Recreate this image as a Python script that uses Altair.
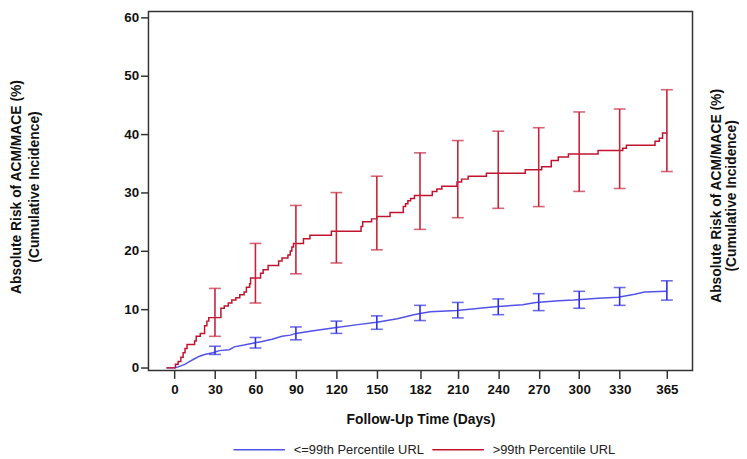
import altair as alt
import pandas as pd

groups = ["<=99th Percentile URL", ">99th Percentile URL"]
line_colors = ["#5252e8", "#c0142e"]
bar_colors = ["#2f2fdc", "#c4243a"]

# Cumulative incidence curves (day, %)
blue_days = [-6, 0, 2.7, 7.6, 11.3, 14.9, 18.6, 22.3, 28.4, 33.3, 40.6, 44.3, 51.6, 58.9,
             65, 72.3, 79.7, 85.8, 90, 101.7, 120, 135.9, 150, 165.2, 177.4, 182, 189.6,
             209.2, 239.7, 258, 267.8, 284.9, 295.9, 314.2, 328.9, 341.1, 348.4, 365]
blue_risk = [0, 0, 0.17, 0.6, 1.1, 1.56, 2.0, 2.3, 2.6, 2.95, 3.1, 3.6, 3.9, 4.25,
             4.5, 4.9, 5.4, 5.6, 5.9, 6.3, 6.9, 7.4, 7.8, 8.4, 9.1, 9.3, 9.6,
             9.8, 10.5, 10.8, 11.2, 11.5, 11.6, 11.9, 12.1, 12.6, 13.0, 13.1]

red_days = [-6, 0.7, 2.7, 4.7, 6.4, 7.8, 9.3, 14.9, 16.1, 19.1, 22.3, 24, 25.4, 34.4,
            36.9, 39.9, 42.5, 45.5, 48.4, 51.6, 53.3, 55.7, 56.4, 63.8, 65.7, 69.4,
            77.2, 79.7, 84.1, 85.8, 87, 88.2, 95.6, 100.4, 116.3, 138.3, 139.5, 146.1,
            150, 159.8, 169.6, 171.3, 173, 175, 177.9, 191.1, 194.5, 198.2, 209.4,
            212.8, 217.7, 231.2, 260, 272.2, 279.3, 284.5, 292, 314, 332.3, 335,
            356.2, 359.4, 361.8, 365]
red_risk = [0, 0.6, 1.1, 1.8, 2.6, 3.3, 4.0, 4.6, 5.4, 5.9, 7.2, 8.0, 8.6, 10.2,
            10.6, 11.1, 11.6, 12.0, 12.5, 13.0, 13.8, 14.4, 15.4, 16.2, 16.8, 17.5,
            18.3, 18.8, 19.3, 20.0, 20.7, 21.3, 22.1, 22.7, 23.4, 24.2, 25.0, 25.5,
            25.9, 26.6, 27.6, 28.1, 28.6, 29.0, 29.5, 30.2, 30.6, 31.1, 31.8,
            32.3, 32.8, 33.3, 33.9, 34.4, 35.5, 36.1, 36.6, 37.2, 37.6, 38.1,
            38.8, 39.3, 40.2, 40.3]

# Confidence intervals
ci_days = [30, 60, 90, 120, 150, 182, 210, 240, 270, 300, 330, 365]
blue_lo = [2.3, 3.4, 4.8, 5.9, 6.6, 8.1, 8.55, 9.1, 9.8, 10.2, 10.7, 11.6]
blue_hi = [3.7, 5.2, 7.0, 8.0, 8.9, 10.7, 11.2, 11.8, 12.7, 13.1, 13.75, 14.9]
red_lo = [5.4, 11.1, 16.1, 17.95, 20.2, 23.7, 25.7, 27.3, 27.6, 30.2, 30.7, 33.6]
red_hi = [13.6, 21.3, 27.8, 30.0, 32.8, 36.8, 38.9, 40.5, 41.1, 43.8, 44.3, 47.6]

x_ticks = [0, 30, 60, 90, 120, 150, 182, 210, 240, 270, 300, 330, 365]
y_ticks = [0, 10, 20, 30, 40, 50, 60]

y_title = ["Absolute Risk of ACM/MACE (%)", "(Cumulative Incidence)"]

blue_df = pd.DataFrame({"day": blue_days, "risk": blue_risk, "group": groups[0]})
red_df = pd.DataFrame({"day": red_days, "risk": red_risk, "group": groups[1]})
ci_df = pd.DataFrame({
    "day": ci_days * 2,
    "lo": blue_lo + red_lo,
    "hi": blue_hi + red_hi,
    "group": [groups[0]] * len(ci_days) + [groups[1]] * len(ci_days),
})

FONT = "Liberation Sans"

xscale = alt.Scale(domain=[-19.3, 384], nice=False, zero=False)
yscale = alt.Scale(domain=[-0.45, 61.0], nice=False, zero=False)

color = alt.Color(
    "group:N",
    scale=alt.Scale(domain=groups, range=line_colors),
    legend=alt.Legend(
        title=None, orient="none", direction="horizontal",
        legendX=85, legendY=416,
        symbolType="stroke", symbolSize=2704, symbolStrokeWidth=1.5,
        labelFont=FONT, labelFontSize=13, labelColor="#222",
        labelOffset=8, columnPadding=5, padding=0,
    ),
)
color_line_nl = alt.Color("group:N", scale=alt.Scale(domain=groups, range=line_colors), legend=None)
color_bar = alt.Color("group:N", scale=alt.Scale(domain=groups, range=bar_colors), legend=None)

x_enc = alt.X(
    "day:Q", scale=xscale,
    axis=alt.Axis(values=x_ticks, title="Follow-Up Time (Days)", titlePadding=17,
                  labelPadding=4),
)

left_axis = alt.Axis(values=y_ticks, title=y_title, titlePadding=83, labelPadding=2,
                     titleY=177)
right_axis = alt.Axis(orient="right", title=y_title, labels=False, ticks=False,
                      titleAngle=270, titleBaseline="top", titlePadding=2, titleY=186,
                      titleLineHeight=15)

blue_line = alt.Chart(blue_df).mark_line(strokeWidth=1.5).encode(
    x=x_enc,
    y=alt.Y("risk:Q", scale=yscale, axis=left_axis),
    color=color,
)
red_line = alt.Chart(red_df).mark_line(strokeWidth=1.5, interpolate="step-after").encode(
    x=x_enc,
    y=alt.Y("risk:Q", scale=yscale, axis=right_axis),
    color=color_line_nl,
)
bars = alt.Chart(ci_df).mark_rule(strokeWidth=1.6).encode(
    x=x_enc,
    y=alt.Y("lo:Q", scale=yscale, axis=None),
    y2="hi:Q",
    color=color_bar,
)
caps_lo = alt.Chart(ci_df).mark_tick(orient="horizontal", size=12, thickness=1.6).encode(
    x=x_enc,
    y=alt.Y("lo:Q", scale=yscale, axis=None),
    color=color_bar,
)
caps_hi = alt.Chart(ci_df).mark_tick(orient="horizontal", size=12, thickness=1.6).encode(
    x=x_enc,
    y=alt.Y("hi:Q", scale=yscale, axis=None),
    color=color_bar,
)

lines = alt.layer(blue_line, red_line).resolve_axis(y="independent")
errs = alt.layer(bars, caps_lo, caps_hi)

chart = alt.layer(lines, errs).resolve_axis(
    y="independent"
).resolve_scale(
    color="independent"
).properties(
    width=550, height=363,
    autosize=alt.AutoSizeParams(type="none"),
    padding={"left": 142, "top": 1, "right": 47, "bottom": 87},
    background="white",
).configure_view(
    stroke="#333333", strokeWidth=1.5,
).configure_axis(
    grid=False, domain=False,
    labelFont=FONT, labelFontSize=13.5, labelFontWeight="bold", labelColor="#111",
    tickColor="#333333", tickWidth=1.5, tickSize=8,
    titleFont=FONT, titleFontSize=14, titleFontWeight="bold", titleColor="#111",
    titleLineHeight=18,
)

chart.save("out.html", embed_options={"renderer": "svg", "actions": False})
